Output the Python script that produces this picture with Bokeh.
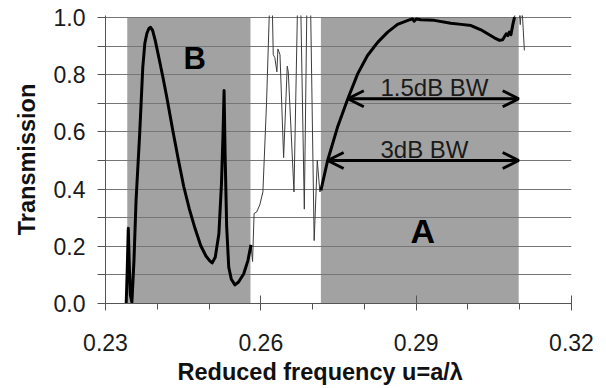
from bokeh.plotting import figure
from bokeh.models import Range1d, FixedTicker, PrintfTickFormatter, Arrow, OpenHead, Label, ColumnDataSource, Title
from bokeh.embed import file_html
from bokeh.resources import INLINE

# ---------------- data ----------------
band_names = ["B", "A"]
band_start = [0.2342, 0.2716]
band_end = [0.2580, 0.3098]

# thick curve, band B
u_B = [0.2340, 0.2342, 0.2344, 0.2346, 0.2348, 0.2351, 0.2355, 0.2359, 0.2366, 0.2372,
       0.2376, 0.2380, 0.2384, 0.2387, 0.2391, 0.2396, 0.2403, 0.2411, 0.2419, 0.2430,
       0.2441, 0.2451, 0.2462, 0.2473, 0.2484, 0.2494, 0.2501, 0.2506, 0.2512, 0.2519,
       0.2524, 0.2527, 0.2529, 0.2531, 0.2534, 0.2538, 0.2543, 0.2550, 0.2557, 0.2567,
       0.2575, 0.2581]
t_B = [0.000, 0.120, 0.263, 0.130, 0.030, 0.005, 0.150, 0.360, 0.593, 0.826,
       0.910, 0.945, 0.962, 0.966, 0.955, 0.920, 0.860, 0.790, 0.715, 0.605,
       0.500, 0.410, 0.330, 0.262, 0.202, 0.166, 0.150, 0.142, 0.162, 0.244,
       0.419, 0.593, 0.745, 0.520, 0.270, 0.127, 0.085, 0.065, 0.075, 0.104,
       0.150, 0.205]

# thick curve, band A
u_A = [0.2716, 0.2729, 0.2748, 0.2768, 0.2787, 0.2806, 0.2826, 0.2845, 0.2864, 0.2884,
       0.2893, 0.2896, 0.2900, 0.2909, 0.2935, 0.2967, 0.2987, 0.3006, 0.3025, 0.3038,
       0.3051, 0.3061, 0.3067, 0.3074, 0.3077, 0.3080, 0.3083, 0.3087, 0.3090]
t_A = [0.395, 0.500, 0.616, 0.716, 0.803, 0.867, 0.914, 0.949, 0.976, 0.990,
       0.995, 0.987, 0.995, 0.992, 0.990, 0.980, 0.976, 0.972, 0.957, 0.943,
       0.929, 0.920, 0.922, 0.943, 0.937, 0.949, 0.940, 0.978, 1.001]

# thin curve between the bands
u_gap = [0.2581, 0.2584, 0.2587, 0.2592, 0.2598, 0.2604, 0.2611, 0.2617, 0.2622, 0.2624,
         0.2627, 0.2631, 0.2633, 0.2637, 0.2644, 0.2651, 0.2653, 0.2664, 0.2671, 0.2677,
         0.2684, 0.2689, 0.2696, 0.2703, 0.2709, 0.2714, 0.2716]
t_gap = [0.205, 0.147, 0.315, 0.320, 0.345, 0.390, 0.700, 1.050, 1.050, 0.870,
         0.860, 0.810, 0.890, 0.870, 0.510, 0.830, 0.810, 0.390, 1.050, 1.050,
         0.330, 1.050, 1.050, 0.220, 0.500, 0.390, 0.395]

# thin curve after band A
u_tail = [0.3090, 0.3095, 0.3098, 0.3101, 0.3104, 0.3109]
t_tail = [1.001, 1.050, 1.050, 0.975, 1.050, 0.885]

# bandwidth arrows
bw_labels = ["1.5dB BW", "3dB BW"]
bw_start = [0.2768, 0.2729]
bw_end = [0.3098, 0.3098]
bw_level = [0.716, 0.500]

x_ticks = [0.23, 0.26, 0.29, 0.32]
x_minor = [0.24, 0.25, 0.27, 0.28, 0.30, 0.31]
y_ticks = [0.0, 0.2, 0.4, 0.6, 0.8, 1.0]
y_minor = [0.1, 0.3, 0.5, 0.7, 0.9]
grid_levels = [0.1, 0.2, 0.3, 0.4, 0.5, 0.6, 0.7, 0.8, 0.9, 1.0]

FONT = "Liberation Sans"

# ---------------- figure ----------------
p = figure(width=606, height=388, x_range=Range1d(0.23, 0.32), y_range=Range1d(0.0, 1.007),
           output_backend="svg", toolbar_location=None,
           min_border_left=105, min_border_right=35, min_border_top=15, min_border_bottom=85)
p.outline_line_color = None
p.background_fill_color = "white"
p.border_fill_color = "white"

p.xgrid.visible = False
p.ygrid.ticker = FixedTicker(ticks=grid_levels)
p.ygrid.grid_line_color = "#767676"
p.ygrid.grid_line_width = 1

# bands
p.quad(left=band_start, right=band_end, bottom=0.0, top=1.0,
       fill_color="#a2a2a2", line_color=None, level="image")

# axes
xa = p.xaxis[0]
xa.ticker = FixedTicker(ticks=x_ticks, minor_ticks=x_minor)
xa.formatter = PrintfTickFormatter(format="%.2f")
xa.major_tick_in = 8
xa.major_tick_out = 7
xa.minor_tick_in = 0
xa.minor_tick_out = 6
xa.axis_line_color = "#555555"
xa.major_tick_line_color = "#555555"
xa.minor_tick_line_color = "#555555"
xa.major_label_text_font = FONT
xa.major_label_text_font_size = "23px"
xa.major_label_text_color = "#1a1a1a"
xa.major_label_standoff = 23

ya = p.yaxis[0]
ya.ticker = FixedTicker(ticks=y_ticks, minor_ticks=y_minor)
ya.formatter = PrintfTickFormatter(format="%.1f")
ya.major_tick_in = 0
ya.major_tick_out = 8
ya.minor_tick_in = 0
ya.minor_tick_out = 8
ya.axis_line_color = "#555555"
ya.major_tick_line_color = "#555555"
ya.minor_tick_line_color = "#555555"
ya.major_label_text_font = FONT
ya.major_label_text_font_size = "23px"
ya.major_label_text_color = "#1a1a1a"
ya.major_label_standoff = 12
ya.axis_label = "Transmission"
ya.axis_label_text_font = FONT
ya.axis_label_text_font_style = "bold"
ya.axis_label_text_font_size = "23.5px"
ya.axis_label_text_color = "#111111"
ya.axis_label_standoff = 11

# x-axis title as a title panel below the axis
p.add_layout(Title(text="Reduced frequency u=a/λ", align="left", offset=72, standoff=7,
                   text_font=FONT, text_font_style="bold", text_font_size="23.5px",
                   text_color="#111111"), "below")

# curves
p.line(u_gap, t_gap, line_color="#3c3c3c", line_width=1)
p.line(u_tail, t_tail, line_color="#3c3c3c", line_width=1)
p.line(u_B, t_B, line_color="black", line_width=3, line_join="round")
p.line(u_A, t_A, line_color="black", line_width=3, line_join="round")

# bandwidth arrows
arrow_src = ColumnDataSource(dict(x0=bw_start, x1=bw_end, y=bw_level))
p.add_layout(Arrow(start=OpenHead(size=16, line_width=3, line_color="black"),
                   end=OpenHead(size=16, line_width=3, line_color="black"),
                   x_start="x0", y_start="y", x_end="x1", y_end="y",
                   line_width=3, line_color="black", source=arrow_src))

for txt, y in zip(bw_labels, [0.755, 0.5395]):
    p.add_layout(Label(x=0.2831, y=y, text=txt, text_align="left", text_baseline="middle",
                       text_font=FONT, text_font_size="24px", text_color="#1a1a1a"))

# band labels
p.add_layout(Label(x=0.24725, y=0.856, text=band_names[0], text_align="center",
                   text_baseline="middle", text_font=FONT, text_font_style="bold",
                   text_font_size="31px", text_color="black"))
p.add_layout(Label(x=0.29130, y=0.254, text=band_names[1], text_align="center",
                   text_baseline="middle", text_font=FONT, text_font_style="bold",
                   text_font_size="34px", text_color="black"))

open("out.html", "w").write(file_html(p, INLINE))
